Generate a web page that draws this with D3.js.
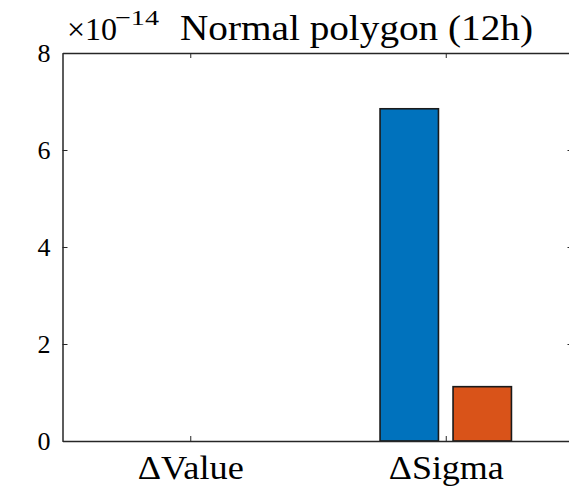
<!DOCTYPE html>
<html>
<head>
<meta charset="utf-8">
<script src="https://cdn.jsdelivr.net/npm/d3@7"></script>
</head>
<body style="margin:0">
<svg id="chart" width="569" height="490"></svg>
<script>
// Data (values in units of 1e-14)
const categories = ["\u0394Value", "\u0394Sigma"];
const seriesA = [0, 6.85];   // blue bars
const seriesB = [0, 1.12];   // orange bars
const yTicks = [0, 2, 4, 6, 8];
const titleText = "Normal polygon (12h)";
const exponentText = "\u221214";

const W = 569, H = 490;
const plot = { left: 62.5, right: 573.5, top: 53, bottom: 441 };
const serif = "'Liberation Serif'";

const svg = d3.select("#chart");
svg.append("rect").attr("width", W).attr("height", H).attr("fill", "#fff");

const x = d3.scaleLinear().domain([0.5, 2.5]).range([plot.left, plot.right]);
const y = d3.scaleLinear().domain([0, 8]).range([plot.bottom, plot.top]);

// grouped bar geometry (two bars per group)
const nSeries = 2;
const groupWidth = Math.min(0.8, nSeries / (nSeries + 1.5));
const slot = groupWidth / nSeries;
const barW = slot * 0.8;
const offsets = [-slot / 2, slot / 2];
const colors = ["#0072BD", "#D95319"];
const allSeries = [seriesA, seriesB];

const bars = svg.append("g");
allSeries.forEach((vals, si) => {
  bars.selectAll(null)
    .data(vals.map((v, i) => ({ v, i })))
    .join("rect")
    .attr("x", d => x(d.i + 1 + offsets[si] - barW / 2))
    .attr("width", d => x(barW) - x(0))
    .attr("y", d => y(d.v))
    .attr("height", d => y(0) - y(d.v))
    .attr("fill", colors[si])
    .attr("stroke", d => d.v > 0 ? "#1a1a1a" : "none")
    .attr("stroke-width", 1.6);
});

// axes box with inward ticks
const axisColor = "#262626";
const axW = 1.5;
function styleAxis(g) {
  g.attr("font-family", null).attr("font-size", null);
  g.select(".domain").attr("stroke", axisColor).attr("stroke-width", axW);
  g.selectAll(".tick line").attr("stroke", axisColor).attr("stroke-width", 1);
}

const gL = svg.append("g").attr("transform", `translate(${plot.left},0)`)
  .call(d3.axisLeft(y).tickValues(yTicks).tickSizeInner(-5).tickSizeOuter(0).tickFormat(d3.format("d")));
styleAxis(gL);
gL.selectAll(".tick text")
  .attr("x", -12).attr("dy", "0.34em").attr("fill", "#000")
  .style("font-family", serif).style("font-size", "26px");

const gR = svg.append("g").attr("transform", `translate(${plot.right},0)`)
  .call(d3.axisRight(y).tickValues(yTicks).tickSizeInner(-6).tickSizeOuter(0).tickFormat(""));
styleAxis(gR);

const gB = svg.append("g").attr("transform", `translate(0,${plot.bottom})`)
  .call(d3.axisBottom(x).tickValues([1, 2]).tickSizeInner(-5).tickSizeOuter(0).tickFormat(d => categories[d - 1]));
styleAxis(gB);
gB.selectAll(".tick text")
  .attr("y", 38).attr("dy", 0).attr("fill", "#000")
  .style("font-family", serif).style("font-size", "33px")
  .attr("textLength", (d, i) => [106, 115][i]).attr("lengthAdjust", "spacingAndGlyphs");

const gT = svg.append("g").attr("transform", `translate(0,${plot.top})`)
  .call(d3.axisTop(x).tickValues([1, 2]).tickSizeInner(-5).tickSizeOuter(0).tickFormat(""));
styleAxis(gT);

// exponent label
svg.append("text").attr("x", 67).attr("y", 40)
  .style("font-family", serif).style("font-size", "32px").text("\u00d710");
svg.append("text").attr("x", 115).attr("y", 25)
  .style("font-family", serif).style("font-size", "22px")
  .attr("textLength", 44).attr("lengthAdjust", "spacingAndGlyphs").text(exponentText);

// title
svg.append("text")
  .attr("x", 180).attr("y", 40)
  .style("font-family", serif).style("font-size", "35px")
  .attr("textLength", 353).attr("lengthAdjust", "spacingAndGlyphs")
  .text(titleText);
</script>
</body>
</html>
